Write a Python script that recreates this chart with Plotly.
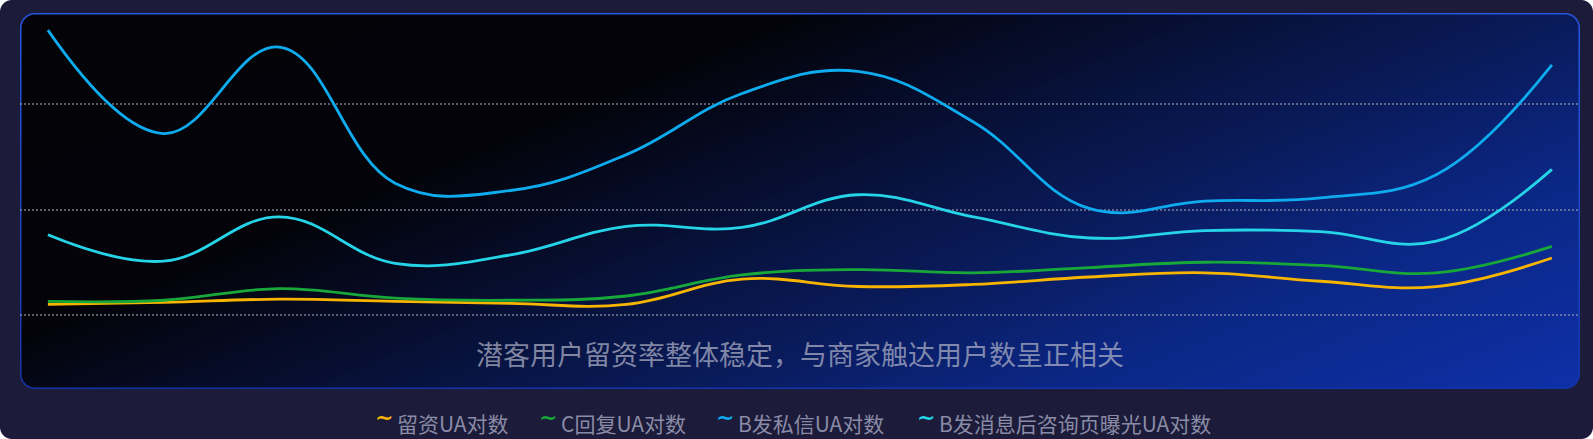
import base64
import struct
import zlib

import numpy as np
import plotly.graph_objects as go

# ---------------- data ----------------
categories = ["1", "2", "3", "4", "5", "6", "7", "8", "9", "10", "11", "12", "13", "14"]
liuzi_ua = [10, 12, 15, 13, 11, 10, 34, 27, 29, 36, 40, 32, 27, 54]
c_reply_ua = [13, 14, 25, 16, 14, 18, 38, 43, 40, 45, 50, 47, 40, 65]
b_msg_ua = [270, 172, 254, 125, 118, 152, 210, 231, 183, 101, 108, 111, 133, 237]
b_consult_ua = [76, 51, 93, 49, 57, 84, 83, 114, 93, 73, 80, 79, 70, 138]
series_names = ["留资UA对数", "C回复UA对数", "B发私信UA对数", "B发消息后咨询页曝光UA对数"]
series_values = [liuzi_ua, c_reply_ua, b_msg_ua, b_consult_ua]
series_colors = ["#f7b500", "#18a83a", "#0fabef", "#26d4e8"]
grid_values = [0, 100, 200]
title_text = "潜客用户留资率整体稳定，与商家触达用户数呈正相关"

W, H = 1593, 439
FONT = "Noto Sans CJK SC"


# ---------------- background image (decoration) ----------------
def rrect_sdf(px, py, x0, y0, x1, y1, r):
    cx, cy = (x0 + x1) / 2, (y0 + y1) / 2
    hx, hy = (x1 - x0) / 2, (y1 - y0) / 2
    qx = np.abs(px - cx) - (hx - r)
    qy = np.abs(py - cy) - (hy - r)
    outside = np.sqrt(np.maximum(qx, 0) ** 2 + np.maximum(qy, 0) ** 2)
    inside = np.minimum(np.maximum(qx, qy), 0)
    return outside + inside - r


ys, xs = np.mgrid[0:H, 0:W].astype(float)
px, py = xs + 0.5, ys + 0.5
img = np.ones((H, W, 3), float) * 255.0

# outer card
d_out = rrect_sdf(px, py, 0, 0, W, H, 12)
a = np.clip(0.5 - d_out, 0, 1)[..., None]
img = img * (1 - a) + np.array([28, 27, 58], float) * a

# inner panel with gradient and border
P = (20, 13, 1580, 389)
d_p = rrect_sdf(px, py, *P, 15)
a_border = np.clip(0.5 - d_p, 0, 1)[..., None]
a_fill = np.clip(0.5 - (d_p + 1.5), 0, 1)[..., None]
u = (px - P[0]) / (P[2] - P[0])
v = (py - P[1]) / (P[3] - P[1])
s = u + 0.58 * v
stops = [0.0, 0.5, 1.03, 1.22, 1.58]
grad = np.stack([
    np.interp(s, stops, [3, 3, 10, 11, 14]),
    np.interp(s, stops, [3, 3, 28, 38, 48]),
    np.interp(s, stops, [8, 9, 95, 130, 168]),
], axis=-1)
vv = np.clip(v, 0, 1)[..., None]
border_col = np.array([38, 88, 228], float) * (1 - vv) + np.array([18, 52, 168], float) * vv
img = img * (1 - a_border) + border_col * a_border
img = img * (1 - a_fill) + grad * a_fill
img = np.clip(np.round(img), 0, 255).astype(np.uint8)


def png_bytes(arr):
    h, w, _ = arr.shape
    raw = b"".join(b"\x00" + arr[y].tobytes() for y in range(h))

    def chunk(t, d):
        c = struct.pack(">I", len(d)) + t + d
        return c + struct.pack(">I", zlib.crc32(t + d) & 0xFFFFFFFF)

    return (b"\x89PNG\r\n\x1a\n"
            + chunk(b"IHDR", struct.pack(">IIBBBBB", w, h, 8, 2, 0, 0, 0))
            + chunk(b"IDAT", zlib.compress(raw, 9))
            + chunk(b"IEND", b""))


bg_uri = "data:image/png;base64," + base64.b64encode(png_bytes(img)).decode()

# ---------------- figure ----------------
fig = go.Figure()
for name, vals, col in zip(series_names, series_values, series_colors):
    fig.add_trace(go.Scatter(
        x=categories, y=vals, name=name, mode="lines",
        line=dict(color=col, width=2.8, shape="spline", smoothing=1.15),
        showlegend=False,
    ))

# pixel geometry of plot area
x_first, x_last = 47.9, 1551.9
step = (x_last - x_first) / (len(categories) - 1)
y0_px, unit_px = 315.0, 1.055  # pixel of value 0, pixels per unit
xr = [(P[0] - x_first) / step, (len(categories) - 1) + (P[2] - x_last) / step]
yr = [(y0_px - P[3]) / unit_px, (y0_px - P[1]) / unit_px]

fig.update_layout(
    width=W, height=H,
    margin=dict(l=0, r=0, t=0, b=0),
    paper_bgcolor="white",
    plot_bgcolor="rgba(0,0,0,0)",
    xaxis=dict(domain=[P[0] / W, P[2] / W], range=xr, showgrid=False, zeroline=False,
               showline=False, showticklabels=False, ticks=""),
    yaxis=dict(domain=[1 - P[3] / H, 1 - P[1] / H], range=yr, tickvals=grid_values,
               showgrid=True, gridcolor="rgba(165,165,180,0.55)", gridwidth=2,
               griddash="2px,2px", zeroline=False, showline=False,
               showticklabels=False, ticks=""),
    images=[dict(source=bg_uri, xref="paper", yref="paper", x=0, y=1,
                 sizex=1, sizey=1, xanchor="left", yanchor="top",
                 sizing="stretch", layer="below")],
    showlegend=False,
)

annotations = [dict(
    text=title_text, xref="paper", yref="paper", x=800 / W, y=1 - 353.5 / H,
    xanchor="center", yanchor="middle", showarrow=False,
    font=dict(family=FONT, size=27, color="rgba(175,178,198,0.72)"),
)]

legend_text_x = [395, 559, 736, 937]
legend_icon_x = [384, 548, 725, 926]
for name, col, tx, ix in zip(series_names, series_colors, legend_text_x, legend_icon_x):
    annotations.append(dict(
        text=name, xref="paper", yref="paper", x=tx / W, y=1 - 422.5 / H,
        xanchor="left", yanchor="middle", showarrow=False,
        font=dict(family=FONT, size=21, color="#8a8ba6"),
    ))
    annotations.append(dict(
        text="<b>~</b>", xref="paper", yref="paper", x=ix / W, y=1 - 417 / H,
        xanchor="center", yanchor="middle", showarrow=False,
        font=dict(family="DejaVu Sans", size=22, color=col),
    ))
fig.update_layout(annotations=annotations)

fig.write_html("out.html")
